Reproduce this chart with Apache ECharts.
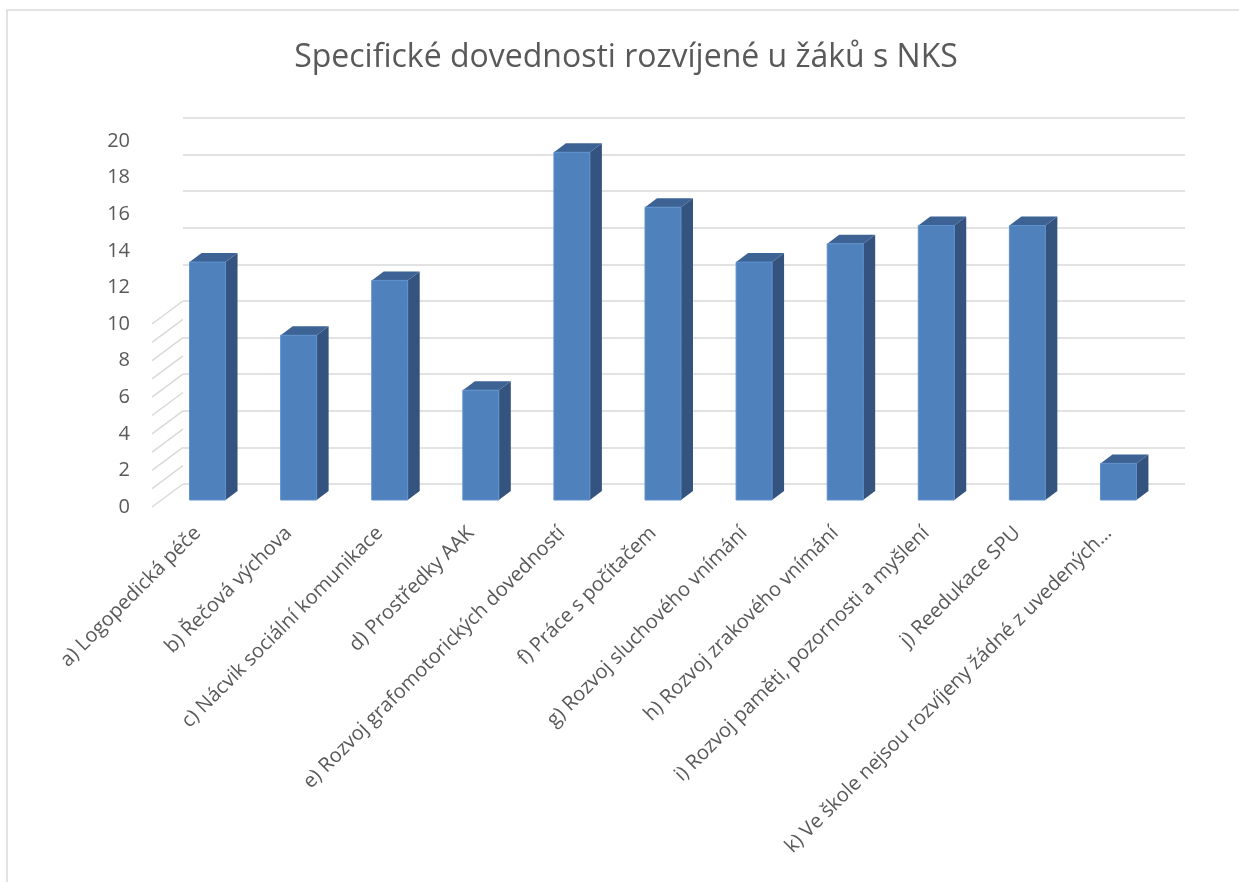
<!DOCTYPE html>
<html>
<head>
<meta charset="utf-8">
<script src="https://cdn.jsdelivr.net/npm/echarts@6/dist/echarts.min.js"></script>
<style>
html,body{margin:0;padding:0;background:#fff;}
#chart{width:1239px;height:882px;}
</style>
</head>
<body>
<div id="chart"></div>
<script>
const title = 'Specifické dovednosti rozvíjené u žáků s NKS';
const categories = [
  'a) Logopedická péče',
  'b) Řečová výchova',
  'c) Nácvik sociální komunikace',
  'd) Prostředky AAK',
  'e) Rozvoj grafomotorických dovedností',
  'f) Práce s počítačem',
  'g) Rozvoj sluchového vnímání',
  'h) Rozvoj zrakového vnímání',
  'i) Rozvoj paměti, pozornosti a myšlení',
  'j) Reedukace SPU',
  'k) Ve škole nejsou rozvíjeny žádné z uvedených…'
];
const values = [13, 9, 12, 6, 19, 16, 13, 14, 15, 15, 2];
const yTicks = [0, 2, 4, 6, 8, 10, 12, 14, 16, 18, 20];

const FONT = '"Open Sans", "Noto Sans", sans-serif';
const TXT = '#595959';
const GRID_C = '#d9d9d9';

// perspective offsets (style constants)
const BACK = [21, -16];
const FRONT = [-10, 7];
const LABEL_SHIFT = -10;
const BAR_DEPTH = [12, -9];

const chart = echarts.init(document.getElementById('chart'));
const yBase = {type: 'value', min: 0, max: 20, interval: 2};
const catBase = {type: 'category', data: categories};

chart.setOption({
  animation: false,
  textStyle: {fontFamily: FONT},
  graphic: [
    {type: 'rect', shape: {x: 7, y: 10, width: 1300, height: 1000},
     style: {fill: 'none', stroke: GRID_C, lineWidth: 1.5}, silent: true, z: -10},
    {type: 'text', x: 626, y: 58,
     style: {text: title, fontSize: 32, fontFamily: FONT, fill: TXT,
             textAlign: 'center', textVerticalAlign: 'middle'}}
  ],
  grid: [
    {left: 162, width: 1002, top: 134, height: 366},
    {left: 162 + BACK[0], width: 1002, top: 134 + BACK[1], height: 366},
    {left: 162 + FRONT[0], width: 1002, top: 134 + FRONT[1], height: 366},
    {left: 162 + LABEL_SHIFT, width: 1002, top: 134, height: 366}
  ],
  xAxis: [
    Object.assign({}, catBase, {gridIndex: 0, show: false}),
    Object.assign({}, catBase, {gridIndex: 1, show: false}),
    Object.assign({}, catBase, {gridIndex: 2, show: false}),
    Object.assign({}, catBase, {gridIndex: 3,
      axisLine: {show: false}, axisTick: {show: false},
      axisLabel: {interval: 0, rotate: 45, margin: 30, fontSize: 20,
                  color: TXT, fontFamily: FONT}})
  ],
  yAxis: [
    Object.assign({}, yBase, {gridIndex: 0, show: false}),
    Object.assign({}, yBase, {gridIndex: 1,
      axisLine: {show: false}, axisTick: {show: false}, axisLabel: {show: false},
      splitLine: {show: true, lineStyle: {color: GRID_C, width: 1.5}}}),
    Object.assign({}, yBase, {gridIndex: 2,
      axisLine: {show: false}, axisTick: {show: false}, splitLine: {show: false},
      axisLabel: {margin: 22, fontSize: 20, color: TXT, fontFamily: FONT}}),
    Object.assign({}, yBase, {gridIndex: 3, show: false})
  ],
  series: [
    {
      type: 'custom', xAxisIndex: 0, yAxisIndex: 0, z: 1, silent: true,
      data: yTicks,
      renderItem: function (params, api) {
        const v = api.value(0);
        const p = api.coord([0, v]);
        const x0 = params.coordSys.x;
        return {
          type: 'line',
          shape: {x1: x0 + FRONT[0], y1: p[1] + FRONT[1], x2: x0 + BACK[0], y2: p[1] + BACK[1]},
          style: {stroke: GRID_C, lineWidth: 1.5}
        };
      }
    },
    {
      type: 'custom', xAxisIndex: 0, yAxisIndex: 0, z: 5,
      data: values.map((v, i) => [i, v]),
      renderItem: function (params, api) {
        const i = api.value(0), v = api.value(1);
        const top = api.coord([i, v]);
        const base = api.coord([i, 0]);
        const hw = api.size([1, 0])[0] * 0.395 / 2;
        const xl = top[0] - hw, xr = top[0] + hw;
        const yt = top[1], yb = base[1];
        const dx = BAR_DEPTH[0], dy = BAR_DEPTH[1];
        return {
          type: 'group',
          children: [
            {type: 'polygon',
             shape: {points: [[xr, yt], [xr + dx, yt + dy], [xr + dx, yb + dy], [xr, yb]]},
             style: {fill: '#34547f'}},
            {type: 'polygon',
             shape: {points: [[xl, yt], [xl + dx, yt + dy], [xr + dx, yt + dy], [xr, yt]]},
             style: {fill: '#3c6394'}},
            {type: 'rect',
             shape: {x: xl, y: yt, width: xr - xl, height: yb - yt},
             style: {fill: '#4f81bd', stroke: '#5f91cc', lineWidth: 1}}
          ]
        };
      }
    }
  ]
});
</script>
</body>
</html>
